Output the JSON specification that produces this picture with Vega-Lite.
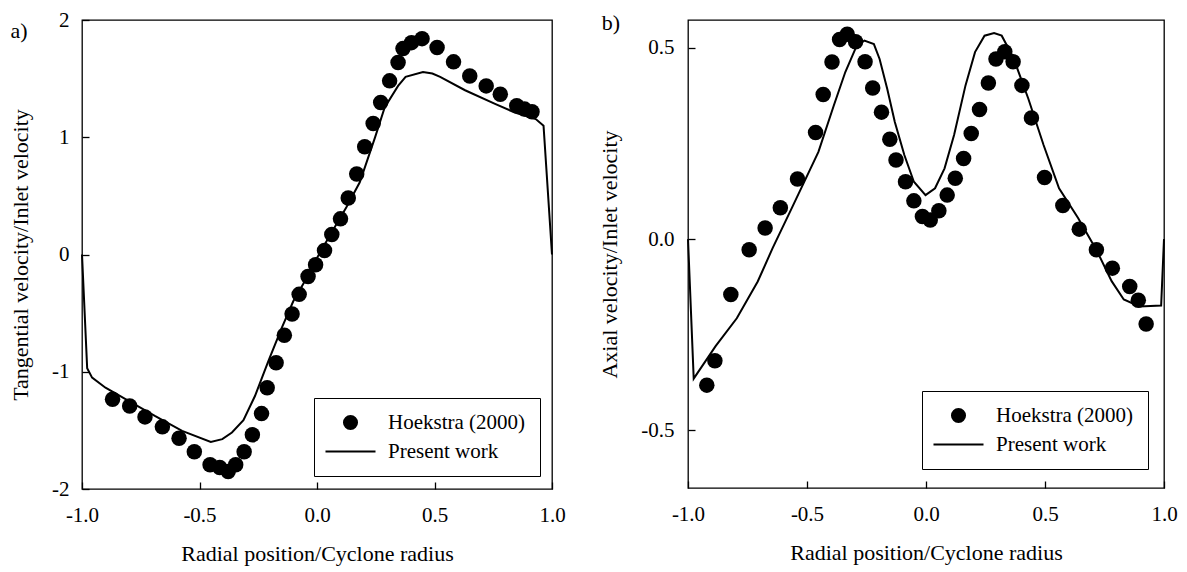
{
  "$schema": "https://vega.github.io/schema/vega-lite/v6.json",
  "background": "white",
  "padding": {"left": 8, "top": 8, "right": 5, "bottom": 5},
  "spacing": 32,
  "align": "none",
  "datasets": {
    "a": [
      {"x": -1.0, "y": 0.0, "series": "Present work"},
      {"x": -0.978, "y": -0.97, "series": "Present work"},
      {"x": -0.957, "y": -1.05, "series": "Present work"},
      {"x": -0.9, "y": -1.136, "series": "Present work"},
      {"x": -0.8, "y": -1.25, "series": "Present work"},
      {"x": -0.69, "y": -1.377, "series": "Present work"},
      {"x": -0.574, "y": -1.504, "series": "Present work"},
      {"x": -0.452, "y": -1.598, "series": "Present work"},
      {"x": -0.403, "y": -1.575, "series": "Present work"},
      {"x": -0.362, "y": -1.518, "series": "Present work"},
      {"x": -0.313, "y": -1.414, "series": "Present work"},
      {"x": -0.264, "y": -1.207, "series": "Present work"},
      {"x": -0.207, "y": -0.909, "series": "Present work"},
      {"x": -0.15, "y": -0.626, "series": "Present work"},
      {"x": -0.101, "y": -0.399, "series": "Present work"},
      {"x": -0.052, "y": -0.229, "series": "Present work"},
      {"x": -0.006, "y": -0.05, "series": "Present work"},
      {"x": 0.059, "y": 0.176, "series": "Present work"},
      {"x": 0.125, "y": 0.403, "series": "Present work"},
      {"x": 0.182, "y": 0.616, "series": "Present work"},
      {"x": 0.247, "y": 0.999, "series": "Present work"},
      {"x": 0.288, "y": 1.254, "series": "Present work"},
      {"x": 0.345, "y": 1.438, "series": "Present work"},
      {"x": 0.377, "y": 1.515, "series": "Present work"},
      {"x": 0.451, "y": 1.557, "series": "Present work"},
      {"x": 0.491, "y": 1.543, "series": "Present work"},
      {"x": 0.524, "y": 1.515, "series": "Present work"},
      {"x": 0.63, "y": 1.401, "series": "Present work"},
      {"x": 0.76, "y": 1.282, "series": "Present work"},
      {"x": 0.842, "y": 1.211, "series": "Present work"},
      {"x": 0.931, "y": 1.155, "series": "Present work"},
      {"x": 0.964, "y": 1.098, "series": "Present work"},
      {"x": 1.0, "y": 0.0, "series": "Present work"},
      {"x": -0.87, "y": -1.235, "series": "Hoekstra (2000)"},
      {"x": -0.797, "y": -1.292, "series": "Hoekstra (2000)"},
      {"x": -0.732, "y": -1.385, "series": "Hoekstra (2000)"},
      {"x": -0.658, "y": -1.47, "series": "Hoekstra (2000)"},
      {"x": -0.587, "y": -1.567, "series": "Hoekstra (2000)"},
      {"x": -0.522, "y": -1.683, "series": "Hoekstra (2000)"},
      {"x": -0.455, "y": -1.793, "series": "Hoekstra (2000)"},
      {"x": -0.414, "y": -1.816, "series": "Hoekstra (2000)"},
      {"x": -0.378, "y": -1.85, "series": "Hoekstra (2000)"},
      {"x": -0.346, "y": -1.793, "series": "Hoekstra (2000)"},
      {"x": -0.31, "y": -1.683, "series": "Hoekstra (2000)"},
      {"x": -0.275, "y": -1.538, "series": "Hoekstra (2000)"},
      {"x": -0.236, "y": -1.357, "series": "Hoekstra (2000)"},
      {"x": -0.212, "y": -1.136, "series": "Hoekstra (2000)"},
      {"x": -0.174, "y": -0.924, "series": "Hoekstra (2000)"},
      {"x": -0.139, "y": -0.688, "series": "Hoekstra (2000)"},
      {"x": -0.106, "y": -0.507, "series": "Hoekstra (2000)"},
      {"x": -0.076, "y": -0.34, "series": "Hoekstra (2000)"},
      {"x": -0.038, "y": -0.187, "series": "Hoekstra (2000)"},
      {"x": -0.006, "y": -0.088, "series": "Hoekstra (2000)"},
      {"x": 0.032, "y": 0.034, "series": "Hoekstra (2000)"},
      {"x": 0.063, "y": 0.17, "series": "Hoekstra (2000)"},
      {"x": 0.1, "y": 0.304, "series": "Hoekstra (2000)"},
      {"x": 0.133, "y": 0.482, "series": "Hoekstra (2000)"},
      {"x": 0.169, "y": 0.687, "series": "Hoekstra (2000)"},
      {"x": 0.203, "y": 0.919, "series": "Hoekstra (2000)"},
      {"x": 0.239, "y": 1.118, "series": "Hoekstra (2000)"},
      {"x": 0.271, "y": 1.296, "series": "Hoekstra (2000)"},
      {"x": 0.309, "y": 1.481, "series": "Hoekstra (2000)"},
      {"x": 0.345, "y": 1.637, "series": "Hoekstra (2000)"},
      {"x": 0.366, "y": 1.756, "series": "Hoekstra (2000)"},
      {"x": 0.402, "y": 1.807, "series": "Hoekstra (2000)"},
      {"x": 0.447, "y": 1.841, "series": "Hoekstra (2000)"},
      {"x": 0.511, "y": 1.765, "series": "Hoekstra (2000)"},
      {"x": 0.581, "y": 1.643, "series": "Hoekstra (2000)"},
      {"x": 0.65, "y": 1.523, "series": "Hoekstra (2000)"},
      {"x": 0.72, "y": 1.438, "series": "Hoekstra (2000)"},
      {"x": 0.78, "y": 1.367, "series": "Hoekstra (2000)"},
      {"x": 0.85, "y": 1.268, "series": "Hoekstra (2000)"},
      {"x": 0.883, "y": 1.24, "series": "Hoekstra (2000)"},
      {"x": 0.915, "y": 1.217, "series": "Hoekstra (2000)"}
    ],
    "b": [
      {"x": -1.0, "y": 0.0, "series": "Present work"},
      {"x": -0.976, "y": -0.365, "series": "Present work"},
      {"x": -0.884, "y": -0.28, "series": "Present work"},
      {"x": -0.795, "y": -0.207, "series": "Present work"},
      {"x": -0.707, "y": -0.111, "series": "Present work"},
      {"x": -0.644, "y": -0.023, "series": "Present work"},
      {"x": -0.564, "y": 0.081, "series": "Present work"},
      {"x": -0.452, "y": 0.228, "series": "Present work"},
      {"x": -0.387, "y": 0.35, "series": "Present work"},
      {"x": -0.339, "y": 0.437, "series": "Present work"},
      {"x": -0.291, "y": 0.506, "series": "Present work"},
      {"x": -0.259, "y": 0.519, "series": "Present work"},
      {"x": -0.219, "y": 0.51, "series": "Present work"},
      {"x": -0.195, "y": 0.471, "series": "Present work"},
      {"x": -0.163, "y": 0.393, "series": "Present work"},
      {"x": -0.131, "y": 0.306, "series": "Present work"},
      {"x": -0.091, "y": 0.22, "series": "Present work"},
      {"x": -0.051, "y": 0.15, "series": "Present work"},
      {"x": -0.002, "y": 0.115, "series": "Present work"},
      {"x": 0.038, "y": 0.133, "series": "Present work"},
      {"x": 0.078, "y": 0.185, "series": "Present work"},
      {"x": 0.118, "y": 0.272, "series": "Present work"},
      {"x": 0.166, "y": 0.402, "series": "Present work"},
      {"x": 0.206, "y": 0.489, "series": "Present work"},
      {"x": 0.246, "y": 0.532, "series": "Present work"},
      {"x": 0.286, "y": 0.539, "series": "Present work"},
      {"x": 0.318, "y": 0.532, "series": "Present work"},
      {"x": 0.366, "y": 0.476, "series": "Present work"},
      {"x": 0.43, "y": 0.367, "series": "Present work"},
      {"x": 0.494, "y": 0.246, "series": "Present work"},
      {"x": 0.559, "y": 0.133, "series": "Present work"},
      {"x": 0.639, "y": 0.055, "series": "Present work"},
      {"x": 0.719, "y": -0.032, "series": "Present work"},
      {"x": 0.78, "y": -0.11, "series": "Present work"},
      {"x": 0.831, "y": -0.158, "series": "Present work"},
      {"x": 0.897, "y": -0.176, "series": "Present work"},
      {"x": 0.988, "y": -0.174, "series": "Present work"},
      {"x": 1.0, "y": 0.0, "series": "Present work"},
      {"x": -0.921, "y": -0.382, "series": "Hoekstra (2000)"},
      {"x": -0.887, "y": -0.318, "series": "Hoekstra (2000)"},
      {"x": -0.82, "y": -0.145, "series": "Hoekstra (2000)"},
      {"x": -0.743, "y": -0.028, "series": "Hoekstra (2000)"},
      {"x": -0.676, "y": 0.029, "series": "Hoekstra (2000)"},
      {"x": -0.612, "y": 0.082, "series": "Hoekstra (2000)"},
      {"x": -0.54, "y": 0.157, "series": "Hoekstra (2000)"},
      {"x": -0.464, "y": 0.279, "series": "Hoekstra (2000)"},
      {"x": -0.432, "y": 0.378, "series": "Hoekstra (2000)"},
      {"x": -0.395, "y": 0.463, "series": "Hoekstra (2000)"},
      {"x": -0.363, "y": 0.522, "series": "Hoekstra (2000)"},
      {"x": -0.331, "y": 0.536, "series": "Hoekstra (2000)"},
      {"x": -0.296, "y": 0.516, "series": "Hoekstra (2000)"},
      {"x": -0.256, "y": 0.464, "series": "Hoekstra (2000)"},
      {"x": -0.224, "y": 0.395, "series": "Hoekstra (2000)"},
      {"x": -0.187, "y": 0.332, "series": "Hoekstra (2000)"},
      {"x": -0.152, "y": 0.261, "series": "Hoekstra (2000)"},
      {"x": -0.126, "y": 0.207, "series": "Hoekstra (2000)"},
      {"x": -0.086, "y": 0.15, "series": "Hoekstra (2000)"},
      {"x": -0.051, "y": 0.1, "series": "Hoekstra (2000)"},
      {"x": -0.015, "y": 0.059, "series": "Hoekstra (2000)"},
      {"x": 0.018, "y": 0.05, "series": "Hoekstra (2000)"},
      {"x": 0.054, "y": 0.074, "series": "Hoekstra (2000)"},
      {"x": 0.089, "y": 0.115, "series": "Hoekstra (2000)"},
      {"x": 0.123, "y": 0.159, "series": "Hoekstra (2000)"},
      {"x": 0.158, "y": 0.211, "series": "Hoekstra (2000)"},
      {"x": 0.19, "y": 0.276, "series": "Hoekstra (2000)"},
      {"x": 0.225, "y": 0.339, "series": "Hoekstra (2000)"},
      {"x": 0.262, "y": 0.408, "series": "Hoekstra (2000)"},
      {"x": 0.294, "y": 0.471, "series": "Hoekstra (2000)"},
      {"x": 0.331, "y": 0.49, "series": "Hoekstra (2000)"},
      {"x": 0.366, "y": 0.464, "series": "Hoekstra (2000)"},
      {"x": 0.403, "y": 0.402, "series": "Hoekstra (2000)"},
      {"x": 0.443, "y": 0.317, "series": "Hoekstra (2000)"},
      {"x": 0.498, "y": 0.161, "series": "Hoekstra (2000)"},
      {"x": 0.575, "y": 0.088, "series": "Hoekstra (2000)"},
      {"x": 0.644, "y": 0.026, "series": "Hoekstra (2000)"},
      {"x": 0.716, "y": -0.028, "series": "Hoekstra (2000)"},
      {"x": 0.783, "y": -0.076, "series": "Hoekstra (2000)"},
      {"x": 0.856, "y": -0.124, "series": "Hoekstra (2000)"},
      {"x": 0.892, "y": -0.16, "series": "Hoekstra (2000)"},
      {"x": 0.925, "y": -0.222, "series": "Hoekstra (2000)"}
    ]
  },
  "config": {
    "view": {"stroke": "black", "strokeWidth": 1.3},
    "font": "Liberation Serif",
    "axis": {
      "domain": false, "grid": false, "ticks": true,
      "tickColor": "black", "tickSize": -7, "tickWidth": 1.3,
      "labelFont": "Liberation Serif", "labelFontSize": 21, "labelColor": "black",
      "labelFlush": false, "labelOverlap": false,
      "titleFont": "Liberation Serif", "titleFontSize": 22, "titleFontWeight": "normal", "titleColor": "black"
    },
    "axisX": {"labelPadding": 22, "titlePadding": 18},
    "axisY": {"labelPadding": 20, "titlePadding": 19},
    "legend": {
      "title": null, "orient": "none", "strokeColor": "black", "fillColor": "white",
      "padding": 14, "rowPadding": 7,
      "labelFont": "Liberation Serif", "labelFontSize": 21, "labelColor": "black",
      "symbolFillColor": "black", "symbolStrokeColor": "black", "symbolStrokeWidth": 0,
      "symbolSize": 227, "symbolOffset": 12, "labelOffset": 27
    },
    "title": {"font": "Liberation Serif", "fontSize": 22, "fontWeight": "normal", "color": "black"}
  },
  "resolve": {
    "scale": {"x": "independent", "y": "independent", "shape": "independent"},
    "legend": {"shape": "independent"}
  },
  "hconcat": [
    {
      "width": 470,
      "height": 469,
      "title": {"text": "a)", "anchor": "start", "frame": "bounds", "orient": "top", "offset": -34, "dx": 1},
      "data": {"name": "a"},
      "layer": [
        {
          "transform": [{"filter": "datum.series === 'Present work'"}],
          "mark": {"type": "line", "color": "black", "strokeWidth": 2},
          "encoding": {
            "x": {"field": "x", "type": "quantitative", "scale": {"domain": [-1, 1], "nice": false, "zero": false},
              "axis": {"values": [-1, -0.5, 0, 0.5, 1], "labelExpr": "replace(format(datum.value, '.1f'), '\u2212', '-')", "title": "Radial position/Cyclone radius"}},
            "y": {"field": "y", "type": "quantitative", "scale": {"domain": [-2, 2], "nice": false, "zero": false},
              "axis": {"values": [-2, -1, 0, 1, 2], "labelExpr": "replace(format(datum.value, 'd'), '\u2212', '-')", "title": "Tangential velocity/Inlet velocity"}}
          }
        },
        {
          "transform": [{"filter": "datum.series === 'Hoekstra (2000)'"}],
          "mark": {"type": "point", "filled": true, "color": "black", "size": 240, "opacity": 1},
          "encoding": {
            "x": {"field": "x", "type": "quantitative"},
            "y": {"field": "y", "type": "quantitative"},
            "shape": {"field": "series", "type": "nominal",
              "scale": {"domain": ["Hoekstra (2000)", "Present work"], "range": ["circle", "M-3.32,-0.133H3.32V0.133H-3.32Z"]},
              "legend": {"legendX": 232, "legendY": 378, "labelFont": "Liberation Serif", "labelFontSize": 21,
                "encode": {"symbols": {"update": {"fill": {"value": "black"}, "fillOpacity": {"value": 1}, "opacity": {"value": 1}, "strokeWidth": {"value": 0}}}}}}
          }
        }
      ]
    },
    {
      "width": 476,
      "height": 468,
      "title": {"text": "b)", "anchor": "start", "frame": "bounds", "orient": "top", "offset": -15, "dx": 3},
      "data": {"name": "b"},
      "layer": [
        {
          "transform": [{"filter": "datum.series === 'Present work'"}],
          "mark": {"type": "line", "color": "black", "strokeWidth": 2},
          "encoding": {
            "x": {"field": "x", "type": "quantitative", "scale": {"domain": [-1, 1], "nice": false, "zero": false},
              "axis": {"values": [-1, -0.5, 0, 0.5, 1], "labelExpr": "replace(format(datum.value, '.1f'), '\u2212', '-')", "title": "Radial position/Cyclone radius"}},
            "y": {"field": "y", "type": "quantitative", "scale": {"domain": [-0.651, 0.573], "nice": false, "zero": false},
              "axis": {"values": [-0.5, 0, 0.5], "labelExpr": "replace(format(datum.value, '.1f'), '\u2212', '-')", "title": "Axial velocity/Inlet velocity", "labelPadding": 21}}
          }
        },
        {
          "transform": [{"filter": "datum.series === 'Hoekstra (2000)'"}],
          "mark": {"type": "point", "filled": true, "color": "black", "size": 240, "opacity": 1},
          "encoding": {
            "x": {"field": "x", "type": "quantitative"},
            "y": {"field": "y", "type": "quantitative"},
            "shape": {"field": "series", "type": "nominal",
              "scale": {"domain": ["Hoekstra (2000)", "Present work"], "range": ["circle", "M-3.32,-0.133H3.32V0.133H-3.32Z"]},
              "legend": {"legendX": 234, "legendY": 371, "labelFont": "Liberation Serif", "labelFontSize": 21,
                "encode": {"symbols": {"update": {"fill": {"value": "black"}, "fillOpacity": {"value": 1}, "opacity": {"value": 1}, "strokeWidth": {"value": 0}}}}}}
          }
        }
      ]
    }
  ]
}
